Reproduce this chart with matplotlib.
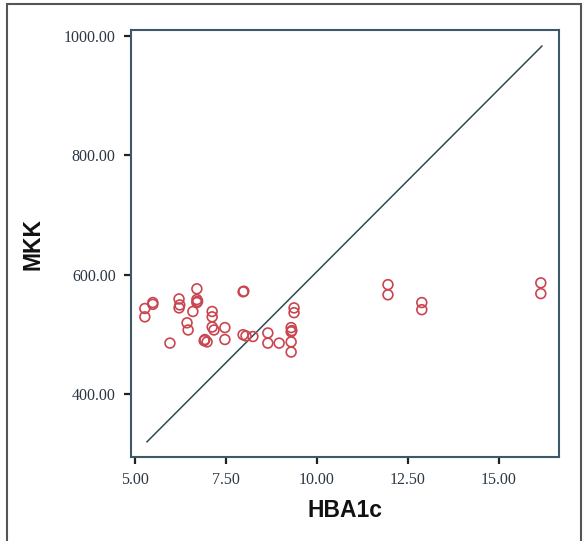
import matplotlib
matplotlib.use("Agg")
import matplotlib.pyplot as plt
from matplotlib.patches import Rectangle

# Data
hba1c = [5.27, 5.27, 5.49, 5.49, 6.21, 6.21, 6.23, 6.70, 6.70, 6.70, 6.72,
         6.59, 7.12, 7.12, 6.43, 6.46, 5.96, 6.92, 6.98, 6.90, 7.12, 7.17,
         7.47, 7.47, 7.97, 7.99, 7.97, 8.05, 8.24, 8.65, 8.65, 8.96,
         9.37, 9.37, 9.29, 9.29, 9.31, 9.29, 9.29,
         11.95, 11.95, 12.88, 12.88, 16.15, 16.15]
mkk = [543, 529, 553, 550, 559, 544, 549, 576, 558, 553, 555,
       538, 538, 529, 519, 507, 485, 491, 487, 489, 512, 507,
       511, 491, 571, 572, 499, 497, 496, 502, 485, 485,
       544, 536, 511, 504, 506, 487, 470,
       583, 566, 553, 541, 586, 568]

ref_x = [5.33, 16.18]
ref_y = [319.5, 983.0]

x_ticks = [5.0, 7.5, 10.0, 12.5, 15.0]
y_ticks = [400, 600, 800, 1000]

W, H = 584, 541
fig = plt.figure(figsize=(W / 100, H / 100), dpi=100)
fig.patch.set_facecolor("white")

# outer frame
fig.patches.append(Rectangle((7 / W, -0.02), (581 - 7) / W, 1.02 - 4 / H,
                             transform=fig.transFigure, fill=False,
                             edgecolor="#555555", linewidth=1.5))

ax = fig.add_axes([131 / W, 1 - 457 / H, (559 - 131) / W, (457 - 30) / H])
ax.set_xlim(4.89, 16.65)
ax.set_ylim(294, 1010)

ax.plot(ref_x, ref_y, color="#2f4a55", linewidth=1.1, zorder=2)
ax.scatter(hba1c, mkk, s=50, facecolors="none", edgecolors="#c9454f",
           linewidths=1.2, zorder=3)

spine_c = "#3d5866"
for sp in ax.spines.values():
    sp.set_color(spine_c)
    sp.set_linewidth(1.5)

ax.set_xticks(x_ticks)
ax.set_xticklabels([f"{v:.2f}" for v in x_ticks])
ax.set_yticks(y_ticks)
ax.set_yticklabels([f"{v:.2f}" for v in y_ticks])
ax.tick_params(direction="out", length=5, width=1.6, color="#222222",
               labelsize=11.5, labelcolor="#2b3745", pad=6)
for lab in ax.get_xticklabels() + ax.get_yticklabels():
    lab.set_family("Liberation Serif")

ax.set_xlabel("HBA1c", fontsize=16.5, fontweight="bold",
              family="Liberation Sans", color="#111111", labelpad=8)
ax.set_ylabel("MKK", fontsize=16.5, fontweight="bold",
              family="Liberation Sans", color="#111111", labelpad=14)

fig.savefig("out.png", dpi=100, facecolor="white")
